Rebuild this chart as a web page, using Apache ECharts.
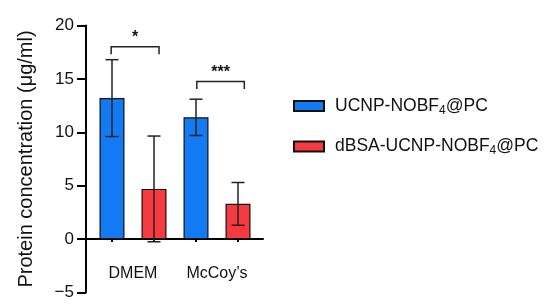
<!DOCTYPE html>
<html>
<head>
<meta charset="utf-8">
<script src="https://cdn.jsdelivr.net/npm/echarts@6/dist/echarts.min.js"></script>
<style>
  html, body { margin: 0; padding: 0; background: #fff; }
  #chart { width: 550px; height: 306px; }
</style>
</head>
<body>
<div id="chart"></div>
<script>
// groups and bar positions on the x value axis
var groups = ['DMEM', 'McCoy\u2019s'];
var groupPos = [1.5, 3.5];
var barPos = [1, 2, 3, 4];

// means and SD
var pcMean = [13.2, 11.4];
var pcSd = [3.6, 1.7];
var dbsaMean = [4.7, 3.3];
var dbsaSd = [4.95, 2.0];

// significance brackets: [x1, x2, y, legEnd]
var brackets = [[0.98, 2.12, 18.0, 17.3], [3.02, 4.15, 14.75, 14.05]];
var stars = ['*', '***'];

var blue = '#127af3';
var red = '#f53b3f';
var font = 'Liberation Sans, Arial, Helvetica, sans-serif';

var pcData = [[barPos[0], pcMean[0]], [barPos[2], pcMean[1]]];
var dbsaData = [[barPos[1], dbsaMean[0]], [barPos[3], dbsaMean[1]]];
var errData = [
    [barPos[0], pcMean[0], pcSd[0]],
    [barPos[1], dbsaMean[0], dbsaSd[0]],
    [barPos[2], pcMean[1], pcSd[1]],
    [barPos[3], dbsaMean[1], dbsaSd[1]]
];
var brData = brackets.map(function (b, i) { return b.concat([i]); });

var legendRich = {
    a: { fontSize: 17.5, fontFamily: font, color: '#111', padding: [0, 0, 0, 6] },
    b: { fontSize: 17.5, fontFamily: font, color: '#111' },
    s: { fontSize: 12, fontFamily: font, color: '#111', padding: [9, 0, 0, 0] }
};

var chart = echarts.init(document.getElementById('chart'));
chart.setOption({
    animation: false,
    backgroundColor: '#fff',
    grid: {
        left: 86,
        right: 287,
        top: 25.5,
        bottom: 13.5,
        outerBoundsMode: 'none',
        containLabel: false
    },
    legend: {
        orient: 'vertical',
        left: 288,
        top: 92,
        icon: 'rect',
        itemWidth: 30,
        itemHeight: 10,
        itemGap: 21,
        data: ['UCNP-NOBF4@PC', 'dBSA-UCNP-NOBF4@PC'],
        formatter: function (name) {
            var p = name.split('4');
            return '{a|' + p[0] + '}{s|4}{b|' + p[1] + '}';
        },
        textStyle: { rich: legendRich }
    },
    xAxis: {
        type: 'value',
        min: 0.381,
        max: 4.595,
        splitLine: { show: false },
        axisLine: { onZero: true, lineStyle: { color: '#000', width: 2 } },
        axisTick: {
            show: true,
            customValues: barPos,
            length: 3,
            lineStyle: { color: '#000', width: 2 }
        },
        axisLabel: {
            customValues: groupPos,
            margin: -27,
            fontSize: 16,
            fontFamily: font,
            color: '#111',
            formatter: function (v) {
                return groups[groupPos.indexOf(v)] || '';
            }
        }
    },
    yAxis: {
        type: 'value',
        min: -5,
        max: 20,
        interval: 5,
        name: 'Protein concentration (\u03bcg/ml)',
        nameLocation: 'middle',
        nameGap: 50,
        nameTextStyle: { fontSize: 20, fontFamily: font, color: '#111' },
        splitLine: { show: false },
        axisLine: { show: true, onZero: false, lineStyle: { color: '#000', width: 2 } },
        axisTick: { show: true, length: 9, lineStyle: { color: '#000', width: 2 } },
        axisLabel: {
            margin: 12,
            fontSize: 17,
            fontFamily: font,
            color: '#111',
            formatter: function (v) { return String(v).replace('-', '\u2212'); }
        }
    },
    series: [
        {
            name: 'UCNP-NOBF4@PC',
            type: 'bar',
            barWidth: 25,
            barGap: '-100%',
            data: pcData,
            itemStyle: { color: blue, borderColor: '#111', borderWidth: 1.2 }
        },
        {
            name: 'dBSA-UCNP-NOBF4@PC',
            type: 'bar',
            barWidth: 25,
            barGap: '-100%',
            data: dbsaData,
            itemStyle: { color: red, borderColor: '#111', borderWidth: 1.2 }
        },
        {
            type: 'custom',
            z: 5,
            data: errData,
            renderItem: function (params, api) {
                var x = api.value(0), m = api.value(1), sd = api.value(2);
                var top = api.coord([x, m + sd]);
                var bot = api.coord([x, m - sd]);
                var hw = 6.5;
                var st = { stroke: '#222', lineWidth: 1.5 };
                return {
                    type: 'group',
                    children: [
                        { type: 'line', shape: { x1: top[0], y1: top[1], x2: bot[0], y2: bot[1] }, style: st },
                        { type: 'line', shape: { x1: top[0] - hw, y1: top[1], x2: top[0] + hw, y2: top[1] }, style: st },
                        { type: 'line', shape: { x1: bot[0] - hw, y1: bot[1], x2: bot[0] + hw, y2: bot[1] }, style: st }
                    ]
                };
            }
        },
        {
            type: 'custom',
            z: 5,
            data: brData,
            renderItem: function (params, api) {
                var a = api.coord([api.value(0), api.value(2)]);
                var b = api.coord([api.value(1), api.value(2)]);
                var a2 = api.coord([api.value(0), api.value(3)]);
                var b2 = api.coord([api.value(1), api.value(3)]);
                return {
                    type: 'group',
                    children: [
                        {
                            type: 'polyline',
                            shape: { points: [a2, a, b, b2] },
                            style: { stroke: '#222', lineWidth: 1.5, fill: null }
                        },
                        {
                            type: 'text',
                            x: (a[0] + b[0]) / 2,
                            y: a[1] - 1,
                            style: {
                                text: stars[api.value(4)],
                                fontSize: 16,
                                fontWeight: 'bold',
                                fontFamily: font,
                                fill: '#111',
                                align: 'center',
                                verticalAlign: 'bottom'
                            }
                        }
                    ]
                };
            }
        }
    ]
});
</script>
</body>
</html>
